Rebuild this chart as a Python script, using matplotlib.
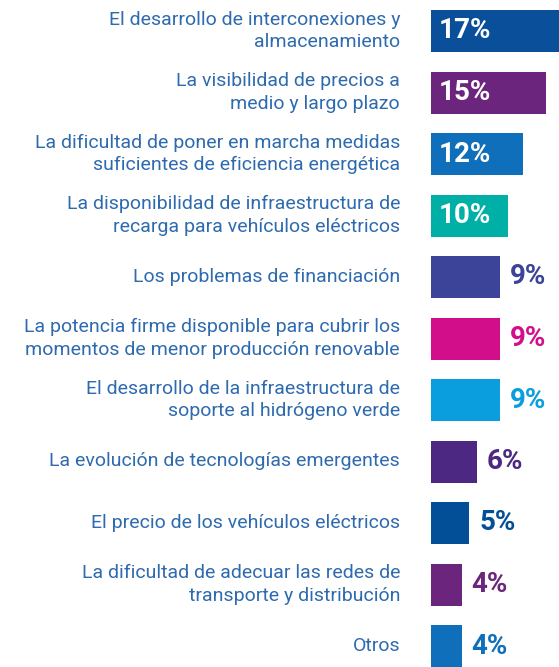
import matplotlib
matplotlib.use("Agg")
import matplotlib.pyplot as plt
from matplotlib.transforms import offset_copy

labels = [
    "El desarrollo de interconexiones y\nalmacenamiento",
    "La visibilidad de precios a\nmedio y largo plazo",
    "La dificultad de poner en marcha medidas\nsuficientes de eficiencia energética",
    "La disponibilidad de infraestructura de\nrecarga para vehículos eléctricos",
    "Los problemas de financiación",
    "La potencia firme disponible para cubrir los\nmomentos de menor producción renovable",
    "El desarrollo de la infraestructura de\nsoporte al hidrógeno verde",
    "La evolución de tecnologías emergentes",
    "El precio de los vehículos eléctricos",
    "La dificultad de adecuar las redes de\ntransporte y distribución",
    "Otros",
]
values = [17, 15, 12, 10, 9, 9, 9, 6, 5, 4, 4]
colors = ["#0a4f9a", "#6c257d", "#0f6fba", "#00b0a6", "#3b4499", "#d30e8b",
          "#0a9ede", "#4c2882", "#034f97", "#6c257d", "#0f6fba"]
inside = [True, True, True, True, False, False, False, False, False, False, False]

W, H = 559, 667
fig = plt.figure(figsize=(W / 100, H / 100), dpi=100)
ax = fig.add_axes([431 / W, 0, 1 - 431 / W, 1])
pitch = 61.5
ax.set_ylim(10 + (H - 646) / pitch, -31 / pitch)
ax.set_xlim(0, 128 / 7.67)
ax.axis("off")

ypos = list(range(len(values)))
ax.barh(ypos, values, height=42 / pitch, color=colors, clip_on=True)

txtcolor = "#2e6aae"
lab_tr = offset_copy(ax.transData, fig=fig, x=-31, y=0, units="dots")
for y, lab in zip(ypos, labels):
    ax.text(0, y, lab, transform=lab_tr, ha="right", va="center",
            fontsize=14.0, color=txtcolor, family="Roboto", fontweight="normal",
            linespacing=1.33, clip_on=False)

in_tr = offset_copy(ax.transData, fig=fig, x=8, y=0, units="dots")
out_tr = offset_copy(ax.transData, fig=fig, x=10, y=0, units="dots")
for y, v, c, ins in zip(ypos, values, colors, inside):
    if ins:
        ax.text(0, y, f"{v}%", transform=in_tr, ha="left", va="center", fontsize=20,
                fontweight="bold", color="white", family="Roboto")
    else:
        ax.text(v, y, f"{v}%", transform=out_tr, ha="left", va="center", fontsize=20,
                fontweight="bold", color=c, family="Roboto", clip_on=False)

fig.savefig("out.png", dpi=100)
